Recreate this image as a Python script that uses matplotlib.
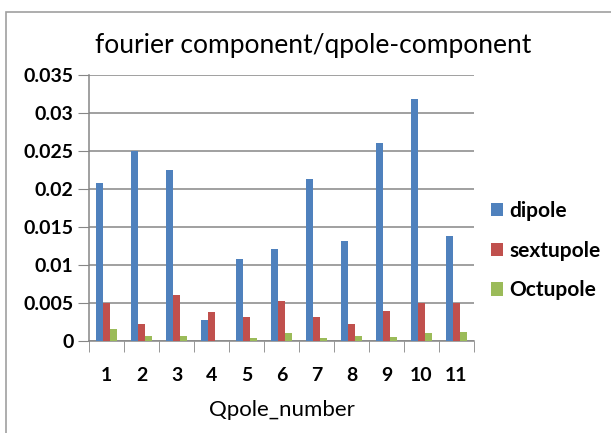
import matplotlib
matplotlib.use("Agg")
import matplotlib.pyplot as plt
from matplotlib.patches import Rectangle
import numpy as np

qpole_numbers = [1, 2, 3, 4, 5, 6, 7, 8, 9, 10, 11]
dipole = [0.0208, 0.0250, 0.0225, 0.0027, 0.0108, 0.0121, 0.0213, 0.0132, 0.0261, 0.0318, 0.0138]
sextupole = [0.0050, 0.0022, 0.0061, 0.0038, 0.0031, 0.0052, 0.0032, 0.0022, 0.0040, 0.0050, 0.0050]
octupole = [0.0016, 0.0007, 0.0007, 0.0000, 0.0004, 0.0010, 0.0004, 0.0007, 0.0005, 0.0010, 0.0012]
series_names = ["dipole", "sextupole", "Octupole"]
y_ticks = [0, 0.005, 0.01, 0.015, 0.02, 0.025, 0.03, 0.035]
y_tick_labels = ["0", "0.005", "0.01", "0.015", "0.02", "0.025", "0.03", "0.035"]

colors = ["#4F81BD", "#C0504D", "#9BBB59"]
plt.rcParams['font.family'] = ['Lato', 'DejaVu Sans']

fig = plt.figure(figsize=(6.11, 4.33), dpi=100)
fig.patches.append(Rectangle((6/611, -0.1), 1.2, 1 - 12/433 + 0.1, transform=fig.transFigure,
                             fill=False, edgecolor="#A0A0A0", linewidth=1.2))
ax = fig.add_axes([89/611, 1 - 341/433, (474 - 89)/611, (341 - 75)/433])

x = np.arange(1, len(qpole_numbers) + 1)
w = 0.2
for i, (vals, name) in enumerate(zip([dipole, sextupole, octupole], series_names)):
    ax.bar(x + (i - 1) * w, vals, width=w, color=colors[i], label=name, zorder=3)

ax.set_xlim(0.5, len(qpole_numbers) + 0.5)
ax.set_ylim(0, 0.035)
ax.set_yticks(y_ticks)
ax.set_yticklabels(y_tick_labels, fontsize=14, fontweight='bold')
ax.set_xticks(x)
ax.set_xticklabels([str(q) for q in qpole_numbers], fontsize=14, fontweight='bold')
ax.set_xticks(np.arange(0.5, len(qpole_numbers) + 1.0, 1.0), minor=True)
ax.tick_params(axis='x', which='major', length=0, pad=19)
ax.tick_params(axis='x', which='minor', length=8, color="#868686", direction='out')
ax.tick_params(axis='y', length=8, color="#868686", direction='out', pad=3)
ax.grid(axis='y', color="#868686", linewidth=1.1, zorder=0)
for s in ['top', 'right']:
    ax.spines[s].set_visible(False)
for s in ['left', 'bottom']:
    ax.spines[s].set_color("#868686")
    ax.spines[s].set_linewidth(1.1)

ax.set_xlabel("Qpole_number", fontsize=16, labelpad=11)
fig.text(313/611, 1 - 45/433, "fourier component/qpole-component", fontsize=19,
         ha='center', va='center')

leg = ax.legend(loc='center left', bbox_to_anchor=(0.995, 0.34), frameon=False,
                prop={'size': 15, 'weight': 'bold'}, handlelength=0.6, handleheight=0.6,
                handletextpad=0.3, labelspacing=0.95)

fig.savefig("out.png", dpi=100)
